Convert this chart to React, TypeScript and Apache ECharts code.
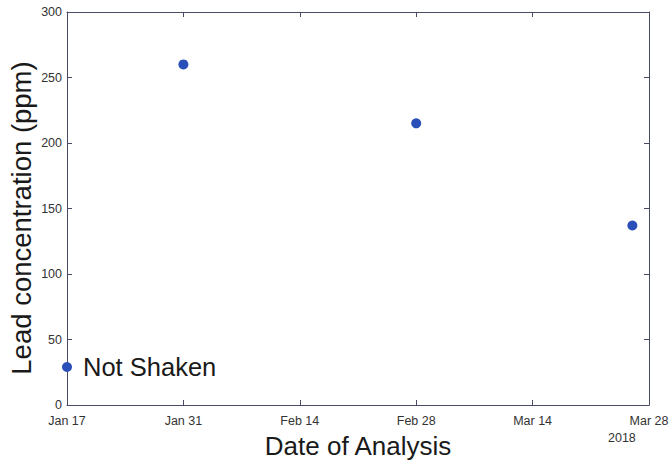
import React, { useEffect, useRef } from "react";
import * as echarts from "echarts";

const startDate = "2018-01-17";
const endDate = "2018-03-28";
const sampleDates = ["2018-01-17", "2018-01-31", "2018-02-28", "2018-03-26"];
const leadPpm = [29, 260, 215, 137];
const pointLabels = ["Not Shaken", "", "", ""];
const monthNames = ["Jan", "Feb", "Mar", "Apr", "May", "Jun", "Jul", "Aug", "Sep", "Oct", "Nov", "Dec"];
const yearLabel = "2018";
const xTitle = "Date of Analysis";
const yTitle = "Lead concentration (ppm)";

const DAY = 86400000;
const t0 = Date.UTC(2018, 0, 17);
const toDay = (s: string) => {
  const [y, m, d] = s.split("-").map(Number);
  return (Date.UTC(y, m - 1, d) - t0) / DAY;
};
const dayLabel = (v: number) => {
  const dt = new Date(t0 + v * DAY);
  return monthNames[dt.getUTCMonth()] + " " + dt.getUTCDate();
};

export default function App() {
  const ref = useRef<HTMLDivElement>(null);
  useEffect(() => {
    if (!ref.current) return;
    const chart = echarts.init(ref.current, null, { renderer: "svg" });
    const font = "'Liberation Sans', Arial, sans-serif";
    const axisColor = "#474b66";
    const xMax = toDay(endDate);
    const line = { show: true, onZero: false, lineStyle: { color: axisColor, width: 1 } };
    const tick = { show: true, inside: true, length: 5, lineStyle: { color: axisColor } };
    chart.setOption({
      animation: false,
      backgroundColor: "#ffffff",
      grid: { left: 67, right: 21, top: 12, bottom: 59, containLabel: false, outerBoundsMode: "none" },
      xAxis: [
        {
          type: "value",
          min: toDay(startDate),
          max: xMax,
          interval: 14,
          axisLine: line,
          axisTick: tick,
          splitLine: { show: false },
          axisLabel: {
            color: "#333",
            fontFamily: font,
            fontSize: 12.5,
            margin: 9,
            formatter: (v: number) => dayLabel(v),
          },
          name: xTitle,
          nameLocation: "middle",
          nameGap: 28,
          nameTextStyle: { color: "#1a1a1a", fontFamily: font, fontSize: 26 },
        },
        {
          type: "value",
          position: "top",
          min: toDay(startDate),
          max: xMax,
          interval: 14,
          axisLine: line,
          axisTick: tick,
          splitLine: { show: false },
          axisLabel: { show: false },
        },
      ],
      yAxis: [
        {
          type: "value",
          min: 0,
          max: 300,
          interval: 50,
          axisLine: line,
          axisTick: tick,
          splitLine: { show: false },
          axisLabel: { color: "#333", fontFamily: font, fontSize: 12.5, margin: 5 },
        },
        {
          type: "value",
          position: "right",
          min: 0,
          max: 300,
          interval: 50,
          axisLine: line,
          axisTick: tick,
          splitLine: { show: false },
          axisLabel: { show: false },
        },
      ],
      graphic: [
        {
          type: "text",
          x: 608,
          y: 431,
          style: { text: yearLabel, fill: "#333", font: "12.5px " + font },
        },
        {
          type: "text",
          x: 21,
          y: 218,
          rotation: Math.PI / 2,
          style: {
            text: yTitle,
            fill: "#1a1a1a",
            font: "27.5px " + font,
            align: "center",
            verticalAlign: "middle",
          },
        },
      ],
      series: [
        {
          type: "scatter",
          symbol: "circle",
          symbolSize: 10,
          itemStyle: { color: "#2b4fb8", opacity: 1 },
          data: sampleDates.map((d, i) => ({
            value: [toDay(d), leadPpm[i]],
            label: {
              show: pointLabels[i] !== "",
              formatter: pointLabels[i],
              position: "right",
              distance: 11,
              color: "#1a1a1a",
              fontFamily: font,
              fontSize: 25.5,
            },
          })),
        },
      ],
    });
    return () => chart.dispose();
  }, []);
  return <div ref={ref} style={{ width: 670, height: 464, position: "absolute", left: 0, top: 0 }} />;
}
